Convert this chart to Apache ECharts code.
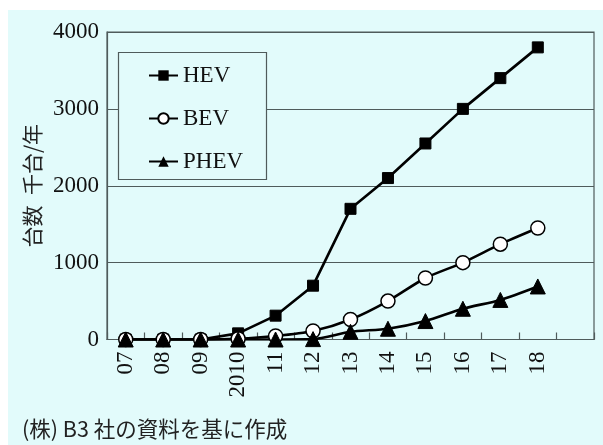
<!DOCTYPE html>
<html>
<head>
<meta charset="utf-8">
<script src="https://cdn.jsdelivr.net/npm/echarts@6/dist/echarts.min.js"></script>
<style>
html, body { margin: 0; padding: 0; background: #ffffff; }
#bg { position: absolute; left: 8px; top: 10px; width: 595px; height: 435px; background: #e2fbfb; }
#chart { position: absolute; left: 0; top: 0; width: 603px; height: 445px; }
</style>
</head>
<body>
<div id="bg"></div>
<div id="chart"></div>
<script>
// 年（07〜18）、最後は空き枠
var categories = ['07', '08', '09', '2010', '11', '12', '13', '14', '15', '16', '17', '18', ''];
// 台数 千台/年
var hevData  = [0, 0, 0, 80, 310, 700, 1700, 2100, 2550, 3000, 3400, 3800];
var bevData  = [0, 0, 0, 10, 45, 110, 260, 500, 800, 1000, 1240, 1450];
var phevData = [0, 0, 0, 0, 0, 5, 100, 140, 240, 400, 515, 690];

var yTicks = [0, 1000, 2000, 3000, 4000];

var AXIS_COLOR = '#4f5b5b';
var SERIF = '"Liberation Serif", "DejaVu Serif", serif';
var CJK = '"Noto Sans CJK JP", "Noto Sans", sans-serif';

var chart = echarts.init(document.getElementById('chart'), null, { renderer: 'canvas' });

var option = {
    backgroundColor: 'transparent',
    animation: false,
    grid: {
        left: 107, top: 32, right: 9, bottom: 105.5,
        show: true,
        borderColor: AXIS_COLOR,
        borderWidth: 1.2,
        backgroundColor: 'transparent'
    },
    graphic: [
        {
            type: 'rect', z: 3,
            shape: { x: 118.5, y: 52.5, width: 148, height: 127 },
            style: { fill: '#e2fbfb', stroke: AXIS_COLOR, lineWidth: 1.2 }
        },
        {
            type: 'text', left: 22, top: 418,
            style: { text: '(株) B3 社の資料を基に作成', font: '21.5px ' + CJK, fill: '#222' }
        }
    ],
    legend: {
        data: ['HEV', 'BEV', 'PHEV'],
        orient: 'vertical',
        left: 148, top: 64,
        padding: 0,
        itemGap: 20,
        itemWidth: 29,
        itemHeight: 13,
        z: 5,
        textStyle: { fontFamily: SERIF, fontSize: 23, color: '#111', lineHeight: 23 }
    },
    xAxis: {
        type: 'category',
        data: categories,
        boundaryGap: true,
        axisLine: { lineStyle: { color: AXIS_COLOR, width: 1.2 } },
        axisTick: { show: true, inside: true, length: 7, lineStyle: { color: AXIS_COLOR, width: 1.2 } },
        axisLabel: { rotate: 90, margin: 12, fontFamily: SERIF, fontSize: 23, color: '#111', interval: 0 }
    },
    yAxis: {
        type: 'value',
        min: yTicks[0], max: yTicks[yTicks.length - 1], interval: 1000,
        name: '台数\u2002千台/年',
        nameLocation: 'middle',
        nameRotate: 90,
        nameGap: 64,
        nameTextStyle: { fontFamily: CJK, fontSize: 21, color: '#222' },
        axisLine: { show: true, lineStyle: { color: AXIS_COLOR, width: 1.2 } },
        axisTick: { show: false },
        axisLabel: {
            margin: 8, fontFamily: SERIF, fontSize: 23, color: '#111',
            formatter: function(v) { return String(v); }
        },
        splitLine: { show: true, lineStyle: { color: AXIS_COLOR, width: 1.2 } }
    },
    series: [
        {
            name: 'HEV', type: 'line', data: hevData,
            symbol: 'rect', symbolSize: 11,
            lineStyle: { color: '#000', width: 2.6 },
            itemStyle: { color: '#000', borderColor: '#000' }
        },
        {
            name: 'BEV', type: 'line', data: bevData, smooth: 0.25,
            symbol: 'circle', symbolSize: 14,
            lineStyle: { color: '#000', width: 2.6 },
            itemStyle: { color: '#fff', borderColor: '#000', borderWidth: 1.5 }
        },
        {
            name: 'PHEV', type: 'line', data: phevData, smooth: 0.25,
            symbol: 'triangle', symbolSize: 15,
            lineStyle: { color: '#000', width: 2.6 },
            itemStyle: { color: '#000', borderColor: '#000' }
        }
    ]
};

chart.setOption(option);
</script>
</body>
</html>
